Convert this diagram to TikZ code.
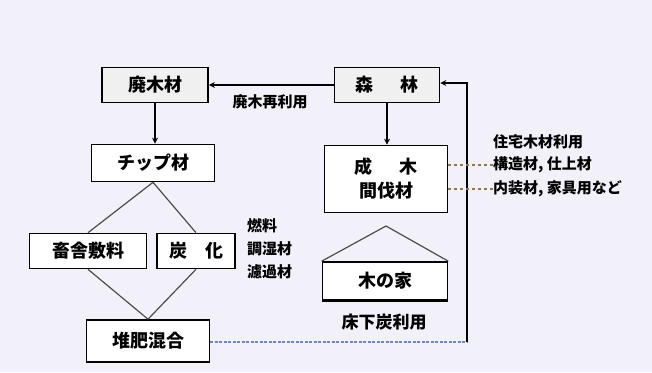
\documentclass[tikz,border=0pt]{standalone}
\usepackage{fontspec}
\newfontfamily\jp{Noto Sans CJK JP}
\usetikzlibrary{arrows.meta}
\definecolor{bg}{HTML}{F2F1FA}
\definecolor{lead}{HTML}{8A7A52}
\definecolor{ret}{HTML}{6F86B8}
\begin{document}
\begin{tikzpicture}[x=1pt,y=-1pt,
    box/.style = {draw, line width=1.6pt, fill=white, inner sep=0pt, font=\jp\bfseries\fontsize{18}{20}\selectfont},
    note/.style = {inner sep=0pt, font=\jp\bfseries\fontsize{15}{17}\selectfont},
    >={Stealth[length=6pt,width=6pt]}]
        \fill[bg] (0,0) rectangle (652,372);
        \node[box, fill=gray!12, minimum width=106pt, minimum height=35pt] (haimoku) at (155,85) {廃木材};
        \node[box, fill=gray!12, minimum width=105pt, minimum height=35pt] (shinrin) at (387,85) {森\hspace{1.5em}林};
        \node[box, minimum width=123pt, minimum height=37pt] (chip) at (153,163) {チップ材};
        \node[box, minimum width=117pt, minimum height=35pt] (chikusha) at (88,251) {畜舎敷料};
        \node[box, minimum width=78pt, minimum height=35pt] (tanka) at (196,251) {炭\hspace{1em}化};
        \node[box, minimum width=123pt, minimum height=42pt] (taihi) at (148,341) {堆肥混合};
        \node[box, minimum width=123pt, minimum height=67pt, align=center] (seiboku) at (386,179) {成\hspace{1.5em}木\\[4pt]間伐材};
        \node[box, minimum width=125pt, minimum height=38pt] (ie) at (385,281) {木の家};
        \coordinate (roof) at (386,226);
        \coordinate (c1) at (467,342);
        \coordinate (c2) at (467,83);
        \node[note] (saiyo) at (270,102) {廃木再利用};
        \node[note, font=\jp\bfseries\fontsize{17}{19}\selectfont] (yuka) at (384,322) {床下炭利用};
        \node[note, anchor=west] (n1) at (247,226) {燃料};
        \node[note, anchor=west] (n2) at (247,249) {調湿材};
        \node[note, anchor=west] (n3) at (247,272) {濾過材};
        \node[note, anchor=west] (u1) at (493,142) {住宅木材利用};
        \node[note, anchor=west] (u2) at (493,165) {構造材, 仕上材};
        \node[note, anchor=west] (u3) at (493,189) {内装材, 家具用など};
        \draw[->, line width=1.4pt] (shinrin.west) -- (haimoku.east);
        \draw[->, line width=1.4pt] (haimoku.south) -- (haimoku.south |- chip.north);
        \draw[->, line width=1.4pt] (shinrin.south) -- (shinrin.south |- seiboku.north);
        \draw[line width=1.2pt, black!70] (chip.south) -- (chikusha.north);
        \draw[line width=1.2pt, black!70] (chip.south) -- (tanka.north);
        \draw[line width=1.2pt, black!70] (chikusha.south) -- (taihi.north);
        \draw[line width=1.2pt, black!70] (tanka.south) -- (taihi.north);
        \draw[line width=1.2pt, black!70] (ie.north west) -- (roof) -- (ie.north east);
        \draw[line width=2.5pt] (ie.south west) -- (ie.south east);
        \draw[line width=2pt, ret, dash pattern=on 3pt off 1.5pt] (taihi.east |- c1) -- (c1);
        \draw[->, line width=1.6pt] (c1) -- (c2) -- (shinrin.east |- c2);
        \draw[line width=1.4pt, lead, dashed] (seiboku.east |- u2) -- (u2.west);
        \draw[line width=1.4pt, lead, dashed] (seiboku.east |- u3) -- (u3.west);
\end{tikzpicture}
\end{document}
